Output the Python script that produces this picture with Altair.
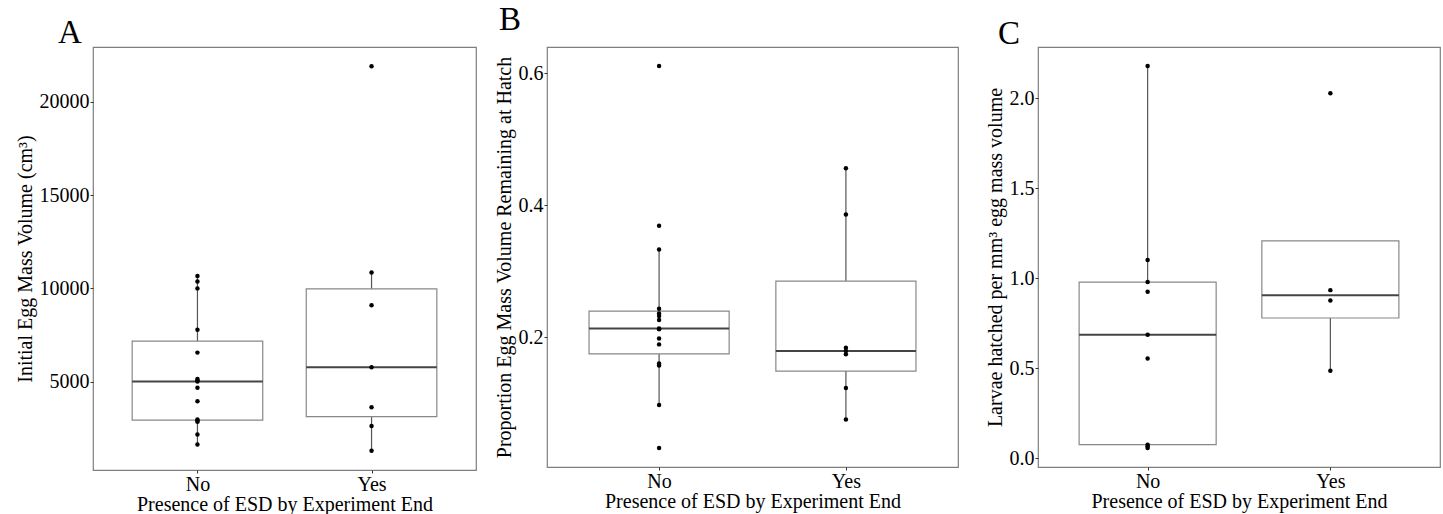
import altair as alt
import pandas as pd
import numpy as np

groups = ["No", "Yes"]

# Panel A: Initial egg mass volume (cm3)
a_no = [10666, 10378, 10006, 7790, 6566, 5150, 5080, 5020, 4680, 3956, 2990, 2920, 2870, 2178, 1645]
a_yes = [21902, 10858, 9100, 5783, 3637, 2641, 1310]
a_ticks = [5000, 10000, 15000, 20000]

# Panel B: proportion remaining at hatch
b_no = [0.611, 0.369, 0.333, 0.243, 0.236, 0.232, 0.226, 0.213, 0.212, 0.198, 0.189, 0.160, 0.157, 0.097, 0.032]
b_yes = [0.456, 0.386, 0.184, 0.179, 0.174, 0.123, 0.075]
b_ticks = [0.2, 0.4, 0.6]

# Panel C: larvae hatched per mm3
c_no = [2.178, 1.101, 0.979, 0.925, 0.686, 0.554, 0.076, 0.067, 0.058]
c_yes = [2.027, 0.934, 0.877, 0.486]
c_ticks = [0.0, 0.5, 1.0, 1.5, 2.0]

FONT = "Liberation Serif"
XTITLE = "Presence of ESD by Experiment End"
FS = 20


def box_stats(vals):
    v = np.array(vals, dtype=float)
    q1, med, q3 = np.percentile(v, [25, 50, 75])
    iqr = q3 - q1
    lo = v[v >= q1 - 1.5 * iqr].min()
    hi = v[v <= q3 + 1.5 * iqr].max()
    return q1, med, q3, lo, hi


def panel(letter, no_vals, yes_vals, ytitle, ticks, fmt, width, height, dx, dy, title_off):
    pts = pd.DataFrame({
        "g": ["No"] * len(no_vals) + ["Yes"] * len(yes_vals),
        "v": list(no_vals) + list(yes_vals),
    })
    rows = []
    for g, vals in zip(groups, [no_vals, yes_vals]):
        q1, med, q3, lo, hi = box_stats(vals)
        rows.append({"g": g, "q1": q1, "med": med, "q3": q3, "lo": lo, "hi": hi})
    st = pd.DataFrame(rows)

    allv = list(no_vals) + list(yes_vals)
    rng = max(allv) - min(allv)
    domain = [min(allv) - 0.05 * rng, max(allv) + 0.05 * rng]

    xs = alt.Scale(type="point", padding=0.6, domain=groups)
    ys = alt.Scale(domain=domain, nice=False, zero=False)
    xax = alt.Axis(title=XTITLE, labelAngle=0, domain=False, ticks=True, tickSize=3,
                   tickColor="#333333", labelPadding=1, titlePadding=0)
    yax = alt.Axis(title=ytitle, values=ticks, format=fmt, domain=False, grid=False,
                   tickSize=3, tickColor="#333333", labelPadding=1, titlePadding=4)

    box_px = 0.75 * width / 2.2
    base_st = alt.Chart(st)

    upper = base_st.mark_rule(color="#555555", strokeWidth=1.2).encode(
        x=alt.X("g:N", scale=xs, axis=xax),
        y=alt.Y("q3:Q", scale=ys, axis=yax),
        y2="hi:Q",
    )
    lower = base_st.mark_rule(color="#555555", strokeWidth=1.2).encode(
        x=alt.X("g:N", scale=xs),
        y=alt.Y("q1:Q", scale=ys),
        y2="lo:Q",
    )
    box = base_st.mark_bar(size=box_px, fill="white", stroke="#888888", strokeWidth=1.2).encode(
        x=alt.X("g:N", scale=xs),
        y=alt.Y("q1:Q", scale=ys),
        y2="q3:Q",
    )
    med = base_st.mark_tick(size=box_px, thickness=2, color="#444444", opacity=1).encode(
        x=alt.X("g:N", scale=xs),
        y=alt.Y("med:Q", scale=ys),
    )
    dots = alt.Chart(pts).mark_circle(size=20, color="black", opacity=1).encode(
        x=alt.X("g:N", scale=xs),
        y=alt.Y("v:Q", scale=ys),
    )
    return alt.layer(upper, lower, box, med, dots).properties(
        width=width,
        height=height,
        title=alt.TitleParams(letter, anchor="start", frame="group", dx=dx, dy=dy,
                              offset=title_off, fontSize=33, font=FONT,
                              fontWeight="normal", color="black"),
    )


pa = panel("A", a_no, a_yes, "Initial Egg Mass Volume (cm³)", a_ticks, "d", 383, 423, -35, 1, -2)
pb = panel("B", b_no, b_yes, "Proportion Egg Mass Volume Remaining at Hatch", b_ticks, ".1f", 411, 420, -48, -12, -2)
pc = panel("C", c_no, c_yes, "Larvae hatched per mm³ egg mass volume", c_ticks, ".1f", 402, 420, -40, 2, -2)

chart = alt.hconcat(alt.hconcat(pa, pb, spacing=16), pc, spacing=25).properties(
    padding={"left": 14, "top": 3, "right": 0, "bottom": 0},
    background="white",
).configure_view(
    stroke="#7f7f7f", strokeWidth=1.2
).configure_axis(
    labelFont=FONT, titleFont=FONT, labelFontSize=FS, titleFontSize=FS,
    labelColor="black", titleColor="black", titleFontWeight="normal",
)

chart.save("out.html", embed_options={"renderer": "svg", "actions": False})
